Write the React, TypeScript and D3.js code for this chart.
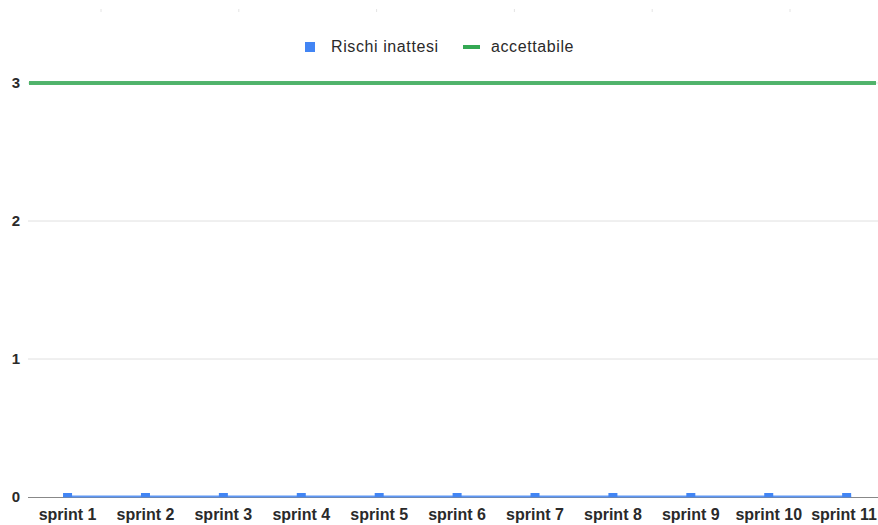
import React from "react";
import * as d3 from "d3";

const categories = ["sprint 1","sprint 2","sprint 3","sprint 4","sprint 5","sprint 6","sprint 7","sprint 8","sprint 9","sprint 10","sprint 11"];
const rischiInattesi = [0,0,0,0,0,0,0,0,0,0,0];
const accettabile = [3,3,3,3,3,3,3,3,3,3,3];
const yTicks = [0,1,2,3];
const seriesNames = ["Rischi inattesi", "accettabile"];

const W = 878, H = 525;
const BLUE = "#4285F4";
const GREEN = "#34A853";

export default function App() {
  const x = d3.scaleBand<string>().domain(categories).range([28.6, 885.6]).padding(0);
  const y = d3.scaleLinear().domain([0, 3]).range([497, 83]);
  const topTicks = d3.range(6).map((i) => 101 + i * 137.8);
  const bw = 9;
  const first = (x(categories[0]) ?? 0) + x.bandwidth() / 2;
  const last = (x(categories[categories.length - 1]) ?? 0) + x.bandwidth() / 2;
  const line = d3.line<number>()
    .x((_, i) => (i === 0 ? 29 : i === accettabile.length - 1 ? 876 : (x(categories[i]) ?? 0) + x.bandwidth() / 2))
    .y((d) => y(d));
  return (
    <svg width={W} height={H} style={{ position: "absolute", left: 0, top: 0, background: "#fff" }}
      fontFamily="Arial, 'Liberation Sans', sans-serif">
      {topTicks.map((t, i) => (
        <line key={i} x1={t} x2={t} y1={9} y2={12} stroke="#e4e4e4" strokeWidth={1} />
      ))}
      {yTicks.filter((t) => t > 0).map((t) => (
        <line key={t} x1={28} x2={W} y1={y(t)} y2={y(t)} stroke="#e0e0e0" strokeWidth={1} />
      ))}
      {yTicks.map((t) => (
        <text key={t} x={20} y={y(t)} dy="0.36em" textAnchor="end" fontSize={15} fontWeight="bold" fill="#2a2a2a">{t}</text>
      ))}
      <line x1={28} x2={W} y1={y(0) + 0.5} y2={y(0) + 0.5} stroke="#888" strokeWidth={1.2} />
      <line x1={first - bw / 2} x2={last + bw / 2} y1={y(0) - 0.5} y2={y(0) - 0.5} stroke={BLUE} strokeWidth={2} opacity={0.85} />
      {rischiInattesi.map((v, i) => {
        const cx = (x(categories[i]) ?? 0) + x.bandwidth() / 2;
        return <rect key={i} x={cx - bw / 2} y={y(v) - 4} width={bw} height={4} fill={BLUE} />;
      })}
      <path d={line(accettabile) ?? ""} fill="none" stroke={GREEN} strokeWidth={4} opacity={0.85} />
      {categories.map((c, i) => {
        const isLast = i === categories.length - 1;
        return (
          <text key={c} x={isLast ? W - 1 : (x(c) ?? 0) + x.bandwidth() / 2} y={520}
            textAnchor={isLast ? "end" : "middle"} fontSize={16} fontWeight="bold" fill="#2a2a2a">{c}</text>
        );
      })}
      <rect x={305} y={42} width={10} height={10} fill={BLUE} />
      <text x={331} y={52} fontSize={16} fill="#2a2a2a" letterSpacing={0.6}>{seriesNames[0]}</text>
      <rect x={463} y={45} width={17} height={4} fill={GREEN} />
      <text x={491} y={52} fontSize={16} fill="#2a2a2a" letterSpacing={0.6}>{seriesNames[1]}</text>
    </svg>
  );
}
